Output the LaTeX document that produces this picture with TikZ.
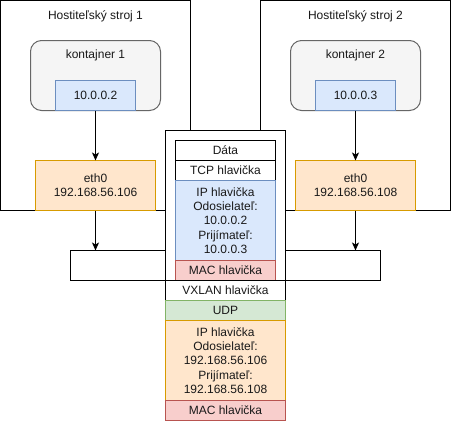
\documentclass[tikz,border=0pt]{standalone}
\usepackage{fontspec}
\setmainfont{Liberation Sans}
\usetikzlibrary{arrows.meta}
\definecolor{grayfill}{HTML}{F5F5F5}
\definecolor{graydraw}{HTML}{666666}
\definecolor{bluefill}{HTML}{DAE8FC}
\definecolor{bluedraw}{HTML}{6C8EBF}
\definecolor{orangefill}{HTML}{FFE6CC}
\definecolor{orangedraw}{HTML}{D79B00}
\definecolor{greenfill}{HTML}{D5E8D4}
\definecolor{greendraw}{HTML}{82B366}
\definecolor{redfill}{HTML}{F8CECC}
\definecolor{reddraw}{HTML}{B85450}
\tikzset{
  base/.style={draw, rectangle, line width=1pt, inner sep=0pt, outer sep=0pt, align=center,
    font=\fontsize{12}{14.2}\selectfont, text=black!90},
  hostbox/.style={base, fill=white, minimum width=190pt, minimum height=210pt},
  contbox/.style={base, draw=graydraw, fill=grayfill, rounded corners=11pt, minimum width=130pt, minimum height=70pt},
  ipbox/.style={base, draw=bluedraw, fill=bluefill, minimum width=80pt, minimum height=30pt},
  ethbox/.style={base, draw=orangedraw, fill=orangefill, minimum width=120pt, minimum height=50pt},
  netbox/.style={base, fill=white, minimum width=310pt, minimum height=30pt},
  outerbox/.style={base, fill=white, minimum width=120pt, minimum height=150pt},
  inwhite/.style={base, fill=white, minimum width=100pt, minimum height=20pt},
  inblue/.style={base, draw=bluedraw, fill=bluefill, minimum width=100pt, minimum height=80pt},
  inred/.style={base, draw=reddraw, fill=redfill, minimum width=100pt, minimum height=20pt},
  outwhite/.style={base, fill=white, minimum width=120pt, minimum height=20pt},
  outgreen/.style={base, draw=greendraw, fill=greenfill, minimum width=120pt, minimum height=20pt},
  outorange/.style={base, draw=orangedraw, fill=orangefill, minimum width=120pt, minimum height=80pt},
  outred/.style={base, draw=reddraw, fill=redfill, minimum width=120pt, minimum height=20pt},
  titletext/.style={font=\fontsize{12}{14.2}\selectfont, text=black!90, inner sep=0pt},
  arr/.style={line width=1pt, -{Stealth[length=8pt,width=7pt,inset=2pt]}},
}
\begin{document}
\begin{tikzpicture}[x=1pt,y=-1pt]
\useasboundingbox (0,0) rectangle (451,421);
% hosts
\node[hostbox] (host1) at (95.5,105.5) {};
\node[hostbox] (host2) at (355.5,105.5) {};
\node[titletext] (host1t) at (95.5,16) {Hostiteľský stroj 1};
\node[titletext] (host2t) at (355.5,16) {Hostiteľský stroj 2};
% containers
\node[contbox] (cont1) at (95.5,75.5) {};
\node[contbox] (cont2) at (355.5,75.5) {};
\node[titletext] (cont1t) at (95.5,55) {kontajner 1};
\node[titletext] (cont2t) at (355.5,55) {kontajner 2};
\node[ipbox] (ip1) at (95.5,95.5) {10.0.0.2};
\node[ipbox] (ip2) at (355.5,95.5) {10.0.0.3};
% eth0
\node[ethbox] (eth1) at (95.5,185.5) {eth0\\192.168.56.106};
\node[ethbox] (eth2) at (355.5,185.5) {eth0\\192.168.56.108};
% network
\node[netbox] (net) at (225.5,265.5) {};
% arrows
\draw[arr] (ip1.south) -- (eth1.north);
\draw[arr] (ip2.south) -- (eth2.north);
\draw[arr] (eth1.south) -- (net.north -| eth1.south);
\draw[arr] (eth2.south) -- (net.north -| eth2.south);
% packet
\node[outerbox] (pkt) at (225.5,205.5) {};
\node[inwhite] (data) at (225.5,150.5) {Dáta};
\node[inwhite] (tcp) at (225.5,170.5) {TCP hlavička};
\node[inblue] (ipin) at (225.5,220.5) {IP hlavička\\Odosielateľ:\\10.0.0.2\\Prijímateľ:\\10.0.0.3};
\node[inred] (macin) at (225.5,270.5) {MAC hlavička};
\node[outwhite] (vxlan) at (225.5,290.5) {VXLAN hlavička};
\node[outgreen] (udp) at (225.5,310.5) {UDP};
\node[outorange] (ipout) at (225.5,360.5) {IP hlavička\\Odosielateľ:\\192.168.56.106\\Prijímateľ:\\192.168.56.108};
\node[outred] (macout) at (225.5,410.5) {MAC hlavička};
\end{tikzpicture}
\end{document}
